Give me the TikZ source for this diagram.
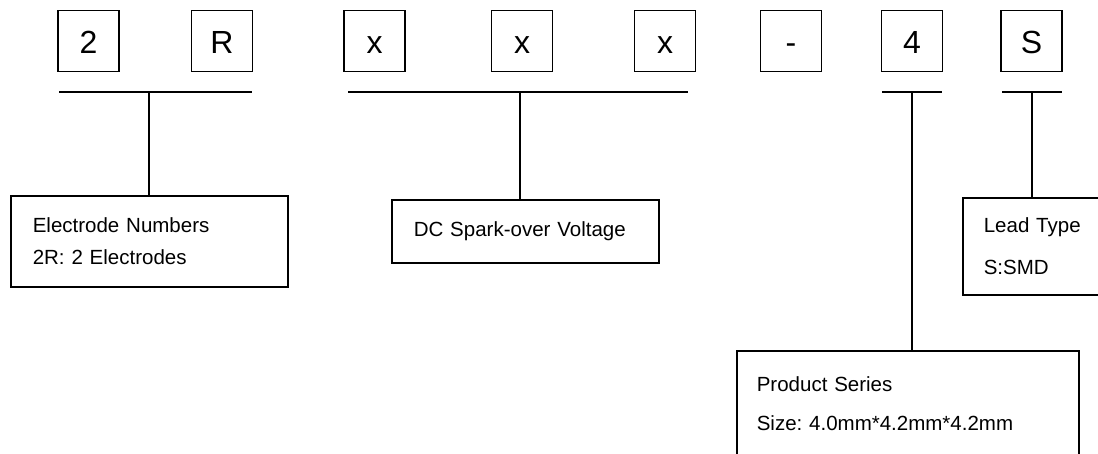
\documentclass[tikz,border=0pt]{standalone}
\usepackage{fontspec}
\setmainfont{Liberation Sans}
\usetikzlibrary{positioning}
\frenchspacing

\tikzset{
  digit/.style={draw,line width=1.3pt,minimum width=61pt,minimum height=61pt,inner sep=0pt,
    text height=26pt,text depth=0pt,font=\fontsize{32}{32}\selectfont},
  infobox/.style={draw,line width=1.6pt,anchor=north west,align=left,inner ysep=0pt,
    font=\fontsize{20.5}{32}\selectfont},
  bar/.style={line width=2.6pt},
  stem/.style={line width=2pt}
}

\begin{document}
\begin{tikzpicture}[x=1pt,y=-1pt]
  \path[use as bounding box,fill=white](0,0) rectangle (1098,454);
  \clip (0,0) rectangle (1098,454);

  \node[digit] (d2) at (88.5,41) {2};
  \node[digit] (dR) at (222,41) {R};
  \node[digit] (dx1) at (374.5,41) {x};
  \node[digit] (dx2) at (522,41) {x};
  \node[digit] (dx3) at (665,41) {x};
  \node[digit] (dsep) at (791,41) {-};
  \node[digit] (d4) at (912,41) {4};
  \node[digit] (dS) at (1031.5,41) {S};

  \node[infobox,text width=233pt,inner xsep=22pt,minimum height=91pt] (electrode) at (10,195)
    {Electrode Numbers\\2R: 2 Electrodes};
  \node[infobox,text width=223pt,inner xsep=22pt,minimum height=63pt] (voltage) at (391,199)
    {DC Spark-over Voltage};
  \node[infobox,text width=160pt,inner xsep=21pt,minimum height=97pt] (lead) at (962,197)
    {Lead Type\\[10pt]S:SMD};
  \node[infobox,text width=302pt,inner xsep=20pt,minimum height=106pt] (series) at (736,350)
    {Product Series\\[7pt]Size: 4.0mm*4.2mm*4.2mm};

  \coordinate (u1l) at (59,92);
  \coordinate (u1r) at (252,92);
  \coordinate (u1s) at (149,92);
  \coordinate (u2l) at (348,92);
  \coordinate (u2r) at (688,92);
  \coordinate (u2s) at (520,92);
  \coordinate (u3l) at (882,92);
  \coordinate (u3r) at (942,92);
  \coordinate (u3s) at (912,92);
  \coordinate (u4l) at (1002,92);
  \coordinate (u4r) at (1062,92);
  \coordinate (u4s) at (1032,92);

  \draw[bar](u1l)--(u1r);
  \draw[bar](u2l)--(u2r);
  \draw[bar](u3l)--(u3r);
  \draw[bar](u4l)--(u4r);
  \draw[stem](u1s)--(u1s |- electrode.north);
  \draw[stem](u2s)--(u2s |- voltage.north);
  \draw[stem](u3s)--(u3s |- series.north);
  \draw[stem](u4s)--(u4s |- lead.north);
\end{tikzpicture}
\end{document}
